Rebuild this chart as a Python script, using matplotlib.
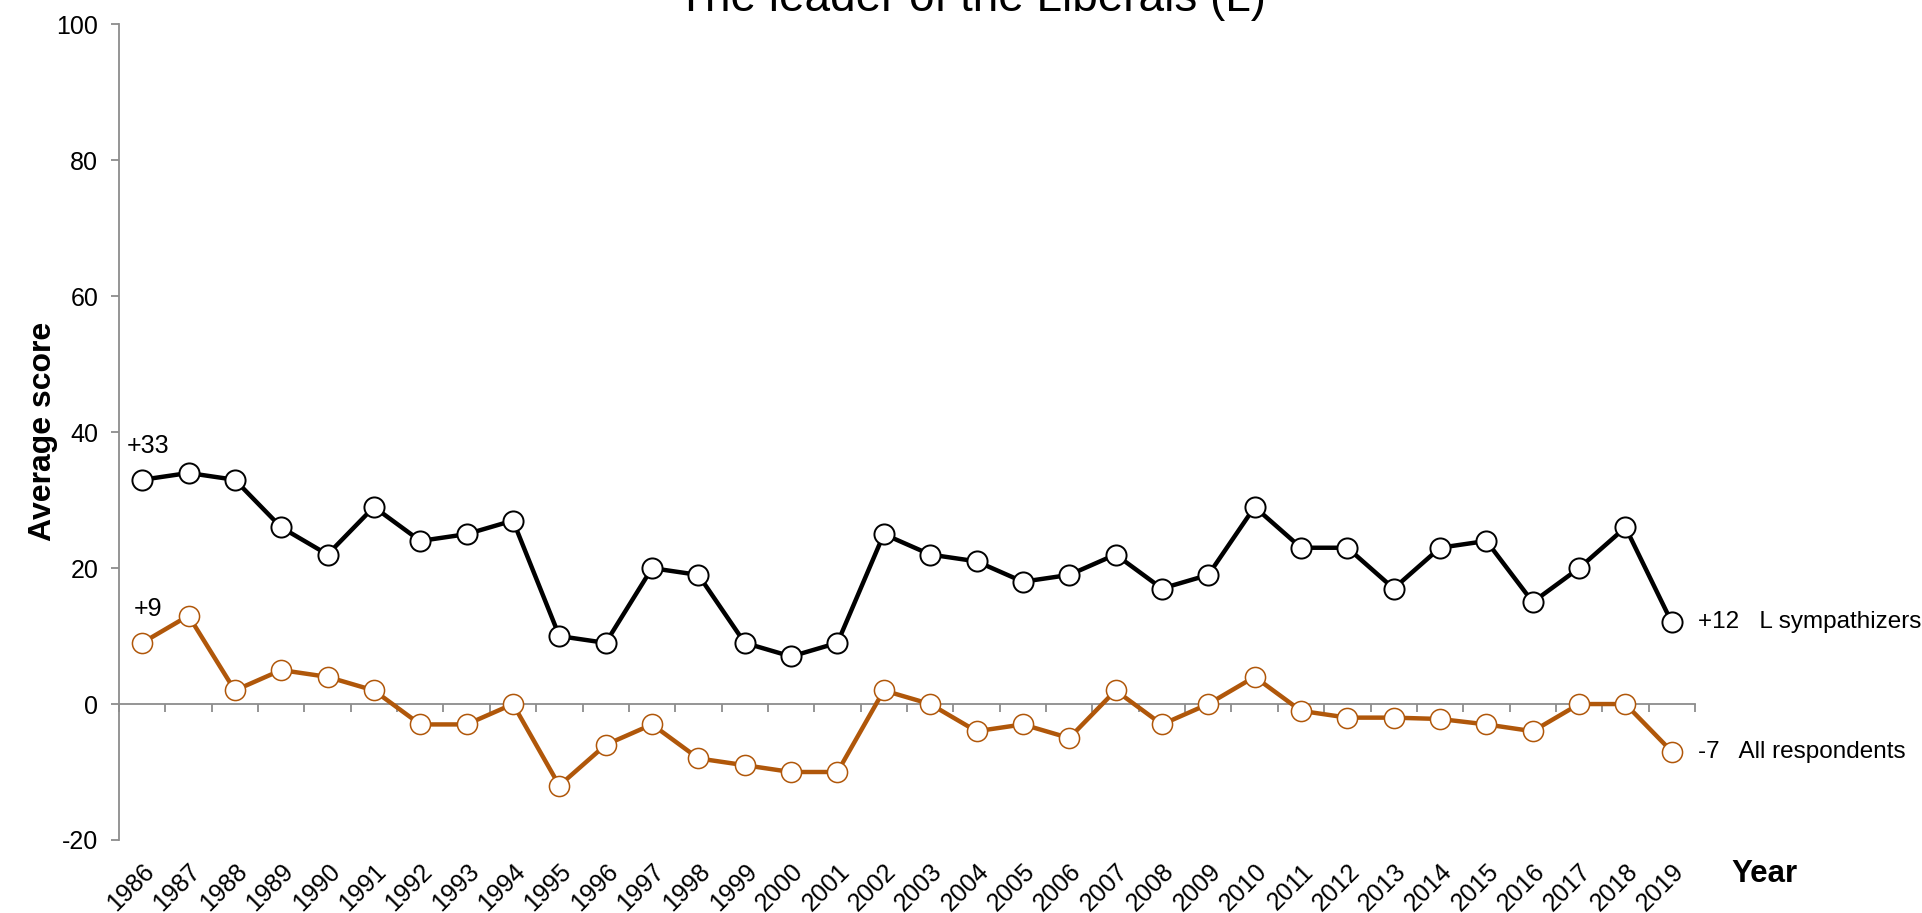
# ==========================================
# The leader of the Liberals (L) - average score by year
# ==========================================

import numpy as np
import matplotlib
matplotlib.use("Agg")
import matplotlib.pyplot as plt

plt.rcParams['font.family'] = ['Liberation Sans', 'DejaVu Sans']
plt.rcParams['axes.unicode_minus'] = False

# ==========================================
# Data
# ==========================================

years = [str(y) for y in range(1986, 2020)]

sympathizers = [33, 34, 33, 26, 22, 29, 24, 25, 27, 10,
                9, 20, 19, 9, 7, 9, 25, 22, 21, 18,
                19, 22, 17, 19, 29, 23, 23, 17, 23, 24,
                15, 20, 26, 12]

all_respondents = [9, 13, 2, 5, 4, 2, -3, -3, 0, -12,
                   -6, -3, -8, -9, -10, -10, 2, 0, -4, -3,
                   -5, 2, -3, 0, 4, -1, -2, -2, -2.2, -3,
                   -4, 0, 0, -7]

black = "#000000"
brown = "#B0570A"
grey = "#8C8C8C"

# ==========================================
# Figure
# ==========================================

fig = plt.figure(figsize=(19.22, 9.13), dpi=100)
ax = fig.add_axes([0.0619, 0.080, 0.820, 0.8932])

x = np.arange(len(years))

ax.plot(x, sympathizers, color=black, linewidth=3.2,
        marker='o', markersize=14.5, markerfacecolor='white',
        markeredgecolor=black, markeredgewidth=1.4, zorder=3)

ax.plot(x, all_respondents, color=brown, linewidth=3.2,
        marker='o', markersize=14.5, markerfacecolor='white',
        markeredgecolor=brown, markeredgewidth=1.1, zorder=3)

# ==========================================
# Axes styling
# ==========================================

ax.set_xlim(-0.5, len(years) - 0.5)
ax.set_ylim(-20, 100)
ax.set_yticks(np.arange(-20, 101, 20))

for side in ['top', 'right']:
    ax.spines[side].set_visible(False)
ax.spines['left'].set_color(grey)
ax.spines['left'].set_linewidth(1.3)
ax.spines['bottom'].set_position(('data', 0))
ax.spines['bottom'].set_color(grey)
ax.spines['bottom'].set_linewidth(1.3)

ax.set_xticks(np.arange(-0.5, len(years), 1))
ax.set_xticklabels([])
ax.tick_params(axis='x', direction='out', length=6, width=1.3, color=grey)
ax.tick_params(axis='y', direction='out', length=6, width=1.3, color=grey,
               labelsize=18, pad=9)

sec = ax.secondary_xaxis(0.0)
sec.set_xticks(x)
sec.set_xticklabels(years, rotation=45, ha='right', rotation_mode='anchor',
                    fontsize=18)
sec.tick_params(length=0, pad=14)
sec.spines['bottom'].set_visible(False)

# ==========================================
# Labels and annotations
# ==========================================

fig.text(0.5054, 0.988, "The leader of the Liberals (L)", fontsize=33,
         ha='center', va='baseline')

fig.text(0.0224, 0.527, "Average score", fontsize=23, fontweight='bold',
         rotation=90, ha='center', va='center')

fig.text(0.901, 0.0427, "Year", fontsize=22.5, fontweight='bold',
         ha='left', va='center')

ax.annotate("+33", (x[0], sympathizers[0]), xytext=(4, 16),
            textcoords='offset points', ha='center', va='bottom', fontsize=18)
ax.annotate("+9", (x[0], all_respondents[0]), xytext=(4, 16),
            textcoords='offset points', ha='center', va='bottom', fontsize=18)

ax.annotate("+12   L sympathizers", (x[-1], sympathizers[-1]), xytext=(19, 0),
            textcoords='offset points', ha='left', va='center', fontsize=17.5,
            annotation_clip=False)
ax.annotate("-7   All respondents", (x[-1], all_respondents[-1]), xytext=(19, 0),
            textcoords='offset points', ha='left', va='center', fontsize=17.5,
            annotation_clip=False)

fig.savefig("out.png", dpi=100)
